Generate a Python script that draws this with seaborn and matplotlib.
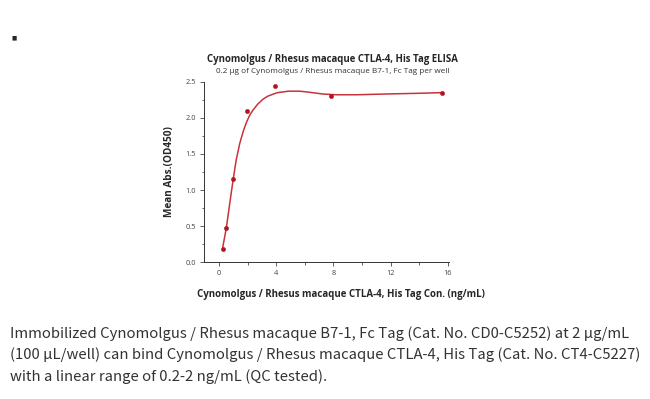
import numpy as np
import pandas as pd
import matplotlib
matplotlib.use("Agg")
import matplotlib.pyplot as plt
import seaborn as sns
from matplotlib.ticker import MultipleLocator

# measured points
conc = [0.244, 0.488, 0.977, 1.95, 3.9, 7.8, 15.6]
od450 = [0.18, 0.47, 1.15, 2.09, 2.44, 2.30, 2.35]

# fitted curve
curve_x = [0.25, 0.4, 0.51, 0.75, 0.98, 1.2, 1.45, 1.7, 1.92, 2.15, 2.38, 2.7, 3.08, 3.4,
           3.79, 4.1, 4.49, 4.85, 5.19, 5.6, 6.12, 6.7, 7.29, 8.2, 9.6, 11.5, 13.8, 15.7]
curve_y = [0.20, 0.36, 0.48, 0.82, 1.14, 1.42, 1.65, 1.82, 1.94, 2.04, 2.11, 2.19, 2.26, 2.30,
           2.33, 2.35, 2.36, 2.37, 2.37, 2.37, 2.36, 2.345, 2.33, 2.32, 2.32, 2.33, 2.34, 2.35]

title = "Cynomolgus / Rhesus macaque CTLA-4, His Tag ELISA"
subtitle = "0.2 \u00b5g of Cynomolgus / Rhesus macaque B7-1, Fc Tag per well"
xlab = "Cynomolgus / Rhesus macaque CTLA-4, His Tag Con. (ng/mL)"
ylab = "Mean Abs.(OD450)"
caption = ("Immobilized Cynomolgus / Rhesus macaque B7-1, Fc Tag (Cat. No. CD0-C5252) at 2 \u00b5g/mL\n"
           "(100 \u00b5L/well) can bind Cynomolgus / Rhesus macaque CTLA-4, His Tag (Cat. No. CT4-C5227)\n"
           "with a linear range of 0.2-2 ng/mL (QC tested).")

sns.set_style("ticks")
plt.rcParams['font.family'] = ['Open Sans', 'DejaVu Sans']

red = "#c8333b"
dot = "#b5121b"

fig = plt.figure(figsize=(6.5, 3.99), dpi=100)
ax = fig.add_axes([0.314, 0.343, 0.377, 0.452])

sns.lineplot(x=curve_x, y=curve_y, ax=ax, color=red, linewidth=1.1)
sns.scatterplot(x=conc, y=od450, ax=ax, color=dot, s=10, marker="o", edgecolor=dot, zorder=3)

ax.set_xlim(-1.05, 16.1)
ax.set_ylim(0, 2.5)
ax.xaxis.set_major_locator(MultipleLocator(4))
ax.xaxis.set_minor_locator(MultipleLocator(2))
ax.yaxis.set_major_locator(MultipleLocator(0.5))
ax.yaxis.set_minor_locator(MultipleLocator(0.25))
ax.yaxis.set_major_formatter(matplotlib.ticker.FormatStrFormatter("%.1f"))
ax.tick_params(which="major", length=3, width=0.6, labelsize=5.3, colors="#444444", pad=3)
ax.tick_params(which="minor", length=1.8, width=0.5)
sns.despine(ax=ax)
for s in ["left", "bottom"]:
    ax.spines[s].set_linewidth(0.7)
    ax.spines[s].set_color("#333333")

ax.set_xlabel(xlab, fontsize=7.0, fontweight="bold")
ax.xaxis.set_label_coords(0.56, -0.15)
ax.set_ylabel(ylab, fontsize=7.2, fontweight="bold")
ax.yaxis.set_label_coords(-0.12, 0.5)

fig.text(0.512, 0.851, title, fontsize=6.9, fontweight="bold", ha="center", va="center")
fig.text(0.512, 0.821, subtitle, fontsize=5.9, ha="center", va="center", color="#333333")

fig.text(0.018, 0.905, "\u25a0", fontsize=4, ha="left", va="center")

fig.text(0.015, 0.11, caption, fontsize=10.7, ha="left", va="center", linespacing=1.55,
         color="#333333", family=['Noto Sans CJK SC', 'DejaVu Sans'])

fig.savefig("out.png", dpi=100)
